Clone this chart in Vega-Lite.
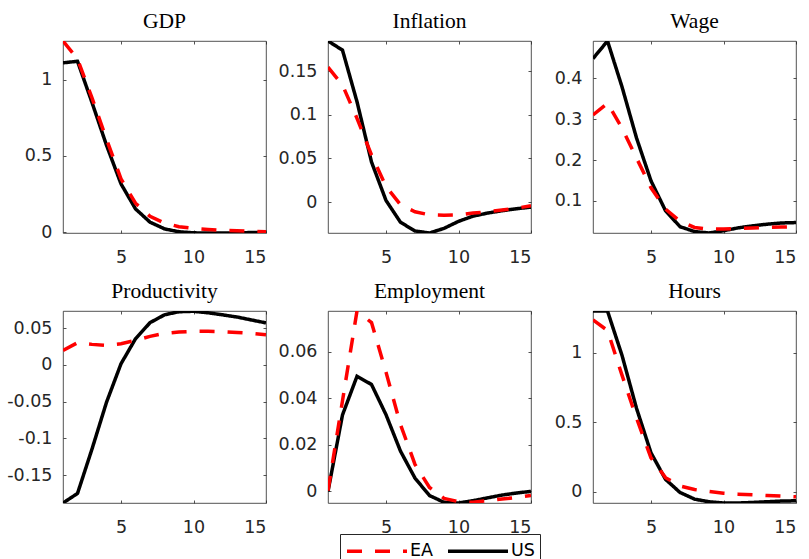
{
  "$schema": "https://vega.github.io/schema/vega-lite/v6.json",
  "autosize": {"type": "pad"},
  "padding": {"left": 6, "top": 10, "right": 2, "bottom": 5},
  "background": "#ffffff",
  "datasets": {
    "irf": [
      {"panel":"GDP","series":"US","h":1,"value":1.11},{"panel":"GDP","series":"US","h":2,"value":1.12},{"panel":"GDP","series":"US","h":3,"value":0.85},{"panel":"GDP","series":"US","h":4,"value":0.57},{"panel":"GDP","series":"US","h":5,"value":0.317},{"panel":"GDP","series":"US","h":6,"value":0.153},{"panel":"GDP","series":"US","h":7,"value":0.066},{"panel":"GDP","series":"US","h":8,"value":0.022},{"panel":"GDP","series":"US","h":9,"value":0.003},{"panel":"GDP","series":"US","h":10,"value":-0.004},{"panel":"GDP","series":"US","h":11,"value":-0.005},{"panel":"GDP","series":"US","h":12,"value":-0.005},{"panel":"GDP","series":"US","h":13,"value":-0.004},{"panel":"GDP","series":"US","h":14,"value":-0.002},{"panel":"GDP","series":"US","h":15,"value":0.0},
      {"panel":"GDP","series":"EA","h":1,"value":1.253},{"panel":"GDP","series":"EA","h":2,"value":1.135},{"panel":"GDP","series":"EA","h":3,"value":0.88},{"panel":"GDP","series":"EA","h":4,"value":0.61},{"panel":"GDP","series":"EA","h":5,"value":0.35},{"panel":"GDP","series":"EA","h":6,"value":0.19},{"panel":"GDP","series":"EA","h":7,"value":0.105},{"panel":"GDP","series":"EA","h":8,"value":0.06},{"panel":"GDP","series":"EA","h":9,"value":0.036},{"panel":"GDP","series":"EA","h":10,"value":0.025},{"panel":"GDP","series":"EA","h":11,"value":0.018},{"panel":"GDP","series":"EA","h":12,"value":0.013},{"panel":"GDP","series":"EA","h":13,"value":0.009},{"panel":"GDP","series":"EA","h":14,"value":0.006},{"panel":"GDP","series":"EA","h":15,"value":0.004},
      {"panel":"Inflation","series":"US","h":1,"value":0.1845},{"panel":"Inflation","series":"US","h":2,"value":0.174},{"panel":"Inflation","series":"US","h":3,"value":0.115},{"panel":"Inflation","series":"US","h":4,"value":0.046},{"panel":"Inflation","series":"US","h":5,"value":0.002},{"panel":"Inflation","series":"US","h":6,"value":-0.023},{"panel":"Inflation","series":"US","h":7,"value":-0.033},{"panel":"Inflation","series":"US","h":8,"value":-0.0353},{"panel":"Inflation","series":"US","h":9,"value":-0.03},{"panel":"Inflation","series":"US","h":10,"value":-0.022},{"panel":"Inflation","series":"US","h":11,"value":-0.016},{"panel":"Inflation","series":"US","h":12,"value":-0.0125},{"panel":"Inflation","series":"US","h":13,"value":-0.0098},{"panel":"Inflation","series":"US","h":14,"value":-0.0075},{"panel":"Inflation","series":"US","h":15,"value":-0.0057},
      {"panel":"Inflation","series":"EA","h":1,"value":0.1545},{"panel":"Inflation","series":"EA","h":2,"value":0.134},{"panel":"Inflation","series":"EA","h":3,"value":0.096},{"panel":"Inflation","series":"EA","h":4,"value":0.054},{"panel":"Inflation","series":"EA","h":5,"value":0.018},{"panel":"Inflation","series":"EA","h":6,"value":-0.003},{"panel":"Inflation","series":"EA","h":7,"value":-0.011},{"panel":"Inflation","series":"EA","h":8,"value":-0.0145},{"panel":"Inflation","series":"EA","h":9,"value":-0.015},{"panel":"Inflation","series":"EA","h":10,"value":-0.0145},{"panel":"Inflation","series":"EA","h":11,"value":-0.0125},{"panel":"Inflation","series":"EA","h":12,"value":-0.011},{"panel":"Inflation","series":"EA","h":13,"value":-0.009},{"panel":"Inflation","series":"EA","h":14,"value":-0.007},{"panel":"Inflation","series":"EA","h":15,"value":-0.004},
      {"panel":"Wage","series":"US","h":1,"value":0.448},{"panel":"Wage","series":"US","h":2,"value":0.491},{"panel":"Wage","series":"US","h":3,"value":0.379},{"panel":"Wage","series":"US","h":4,"value":0.254},{"panel":"Wage","series":"US","h":5,"value":0.149},{"panel":"Wage","series":"US","h":6,"value":0.076},{"panel":"Wage","series":"US","h":7,"value":0.037},{"panel":"Wage","series":"US","h":8,"value":0.025},{"panel":"Wage","series":"US","h":9,"value":0.0215},{"panel":"Wage","series":"US","h":10,"value":0.027},{"panel":"Wage","series":"US","h":11,"value":0.034},{"panel":"Wage","series":"US","h":12,"value":0.039},{"panel":"Wage","series":"US","h":13,"value":0.043},{"panel":"Wage","series":"US","h":14,"value":0.046},{"panel":"Wage","series":"US","h":15,"value":0.047},
      {"panel":"Wage","series":"EA","h":1,"value":0.31},{"panel":"Wage","series":"EA","h":2,"value":0.339},{"panel":"Wage","series":"EA","h":3,"value":0.278},{"panel":"Wage","series":"EA","h":4,"value":0.205},{"panel":"Wage","series":"EA","h":5,"value":0.132},{"panel":"Wage","series":"EA","h":6,"value":0.08},{"panel":"Wage","series":"EA","h":7,"value":0.05},{"panel":"Wage","series":"EA","h":8,"value":0.035},{"panel":"Wage","series":"EA","h":9,"value":0.031},{"panel":"Wage","series":"EA","h":10,"value":0.031},{"panel":"Wage","series":"EA","h":11,"value":0.033},{"panel":"Wage","series":"EA","h":12,"value":0.034},{"panel":"Wage","series":"EA","h":13,"value":0.035},{"panel":"Wage","series":"EA","h":14,"value":0.036},{"panel":"Wage","series":"EA","h":15,"value":0.037},
      {"panel":"Productivity","series":"US","h":1,"value":-0.188},{"panel":"Productivity","series":"US","h":2,"value":-0.175},{"panel":"Productivity","series":"US","h":3,"value":-0.1146},{"panel":"Productivity","series":"US","h":4,"value":-0.051},{"panel":"Productivity","series":"US","h":5,"value":0.0014},{"panel":"Productivity","series":"US","h":6,"value":0.0354},{"panel":"Productivity","series":"US","h":7,"value":0.0573},{"panel":"Productivity","series":"US","h":8,"value":0.068},{"panel":"Productivity","series":"US","h":9,"value":0.0722},{"panel":"Productivity","series":"US","h":10,"value":0.0728},{"panel":"Productivity","series":"US","h":11,"value":0.0708},{"panel":"Productivity","series":"US","h":12,"value":0.068},{"panel":"Productivity","series":"US","h":13,"value":0.065},{"panel":"Productivity","series":"US","h":14,"value":0.061},{"panel":"Productivity","series":"US","h":15,"value":0.057},
      {"panel":"Productivity","series":"EA","h":1,"value":0.0196},{"panel":"Productivity","series":"EA","h":2,"value":0.03},{"panel":"Productivity","series":"EA","h":3,"value":0.0278},{"panel":"Productivity","series":"EA","h":4,"value":0.0264},{"panel":"Productivity","series":"EA","h":5,"value":0.0287},{"panel":"Productivity","series":"EA","h":6,"value":0.0332},{"panel":"Productivity","series":"EA","h":7,"value":0.0387},{"panel":"Productivity","series":"EA","h":8,"value":0.0428},{"panel":"Productivity","series":"EA","h":9,"value":0.0446},{"panel":"Productivity","series":"EA","h":10,"value":0.0455},{"panel":"Productivity","series":"EA","h":11,"value":0.0455},{"panel":"Productivity","series":"EA","h":12,"value":0.045},{"panel":"Productivity","series":"EA","h":13,"value":0.044},{"panel":"Productivity","series":"EA","h":14,"value":0.0428},{"panel":"Productivity","series":"EA","h":15,"value":0.041},
      {"panel":"Employment","series":"US","h":1,"value":0.0},{"panel":"Employment","series":"US","h":2,"value":0.0329},{"panel":"Employment","series":"US","h":3,"value":0.0495},{"panel":"Employment","series":"US","h":4,"value":0.046},{"panel":"Employment","series":"US","h":5,"value":0.033},{"panel":"Employment","series":"US","h":6,"value":0.0173},{"panel":"Employment","series":"US","h":7,"value":0.0057},{"panel":"Employment","series":"US","h":8,"value":-0.0018},{"panel":"Employment","series":"US","h":9,"value":-0.0047},{"panel":"Employment","series":"US","h":10,"value":-0.005},{"panel":"Employment","series":"US","h":11,"value":-0.004},{"panel":"Employment","series":"US","h":12,"value":-0.0028},{"panel":"Employment","series":"US","h":13,"value":-0.0016},{"panel":"Employment","series":"US","h":14,"value":-0.0007},{"panel":"Employment","series":"US","h":15,"value":0.0},
      {"panel":"Employment","series":"EA","h":1,"value":0.0003},{"panel":"Employment","series":"EA","h":2,"value":0.039},{"panel":"Employment","series":"EA","h":3,"value":0.0776},{"panel":"Employment","series":"EA","h":4,"value":0.0726},{"panel":"Employment","series":"EA","h":5,"value":0.0513},{"panel":"Employment","series":"EA","h":6,"value":0.0287},{"panel":"Employment","series":"EA","h":7,"value":0.0116},{"panel":"Employment","series":"EA","h":8,"value":0.0017},{"panel":"Employment","series":"EA","h":9,"value":-0.003},{"panel":"Employment","series":"EA","h":10,"value":-0.0044},{"panel":"Employment","series":"EA","h":11,"value":-0.0047},{"panel":"Employment","series":"EA","h":12,"value":-0.004},{"panel":"Employment","series":"EA","h":13,"value":-0.0033},{"panel":"Employment","series":"EA","h":14,"value":-0.0026},{"panel":"Employment","series":"EA","h":15,"value":-0.0018},
      {"panel":"Hours","series":"US","h":1,"value":1.303},{"panel":"Hours","series":"US","h":2,"value":1.303},{"panel":"Hours","series":"US","h":3,"value":0.983},{"panel":"Hours","series":"US","h":4,"value":0.601},{"panel":"Hours","series":"US","h":5,"value":0.279},{"panel":"Hours","series":"US","h":6,"value":0.088},{"panel":"Hours","series":"US","h":7,"value":-0.007},{"panel":"Hours","series":"US","h":8,"value":-0.055},{"panel":"Hours","series":"US","h":9,"value":-0.074},{"panel":"Hours","series":"US","h":10,"value":-0.083},{"panel":"Hours","series":"US","h":11,"value":-0.083},{"panel":"Hours","series":"US","h":12,"value":-0.079},{"panel":"Hours","series":"US","h":13,"value":-0.074},{"panel":"Hours","series":"US","h":14,"value":-0.069},{"panel":"Hours","series":"US","h":15,"value":-0.067},
      {"panel":"Hours","series":"EA","h":1,"value":1.239},{"panel":"Hours","series":"EA","h":2,"value":1.162},{"panel":"Hours","series":"EA","h":3,"value":0.84},{"panel":"Hours","series":"EA","h":4,"value":0.53},{"panel":"Hours","series":"EA","h":5,"value":0.243},{"panel":"Hours","series":"EA","h":6,"value":0.1},{"panel":"Hours","series":"EA","h":7,"value":0.04},{"panel":"Hours","series":"EA","h":8,"value":0.014},{"panel":"Hours","series":"EA","h":9,"value":0.0},{"panel":"Hours","series":"EA","h":10,"value":-0.012},{"panel":"Hours","series":"EA","h":11,"value":-0.019},{"panel":"Hours","series":"EA","h":12,"value":-0.024},{"panel":"Hours","series":"EA","h":13,"value":-0.029},{"panel":"Hours","series":"EA","h":14,"value":-0.033},{"panel":"Hours","series":"EA","h":15,"value":-0.038}
    ]
  },
  "data": {"name": "irf"},
  "columns": 3,
  "bounds": "flush",
  "spacing": {"row": 78, "column": 62},
  "concat": [
    {
      "title": "GDP", "width": 203, "height": 192,
      "transform": [{"filter": "datum.panel === 'GDP'"}],
      "layer": [
        {"mark": {"type": "line", "strokeWidth": 3.5, "clip": true},
         "encoding": {
           "x": {"field": "h", "type": "quantitative", "scale": {"domain": [1, 15], "nice": false, "zero": false}, "axis": {"values": [5, 10, 15], "orient": "bottom"}},
           "y": {"field": "value", "type": "quantitative", "scale": {"domain": [-0.005, 1.253], "nice": false, "zero": false}, "axis": {"values": [0, 0.5, 1], "orient": "left"}},
           "color": {"field": "series", "type": "nominal", "scale": {"domain": ["EA", "US"], "range": ["#ff0000", "#000000"]}, "legend": {"title": null}},
           "strokeDash": {"field": "series", "type": "nominal", "scale": {"domain": ["EA", "US"], "range": [[15, 13], [1, 0]]}, "legend": {"title": null}}
         }},
        {"mark": {"type": "line", "opacity": 0},
         "encoding": {
           "x": {"field": "h", "type": "quantitative", "axis": {"values": [5, 10, 15], "orient": "top", "labels": false}},
           "y": {"field": "value", "type": "quantitative", "axis": {"values": [0, 0.5, 1], "orient": "right", "labels": false}}
         }}
      ],
      "resolve": {"axis": {"x": "independent", "y": "independent"}}
    },
    {
      "title": "Inflation", "width": 203, "height": 192,
      "transform": [{"filter": "datum.panel === 'Inflation'"}],
      "layer": [
        {"mark": {"type": "line", "strokeWidth": 3.5, "clip": true},
         "encoding": {
           "x": {"field": "h", "type": "quantitative", "scale": {"domain": [1, 15], "nice": false, "zero": false}, "axis": {"values": [5, 10, 15], "orient": "bottom"}},
           "y": {"field": "value", "type": "quantitative", "scale": {"domain": [-0.0353, 0.1845], "nice": false, "zero": false}, "axis": {"values": [0, 0.05, 0.1, 0.15], "orient": "left"}},
           "color": {"field": "series", "type": "nominal", "scale": {"domain": ["EA", "US"], "range": ["#ff0000", "#000000"]}, "legend": {"title": null}},
           "strokeDash": {"field": "series", "type": "nominal", "scale": {"domain": ["EA", "US"], "range": [[15, 13], [1, 0]]}, "legend": {"title": null}}
         }},
        {"mark": {"type": "line", "opacity": 0},
         "encoding": {
           "x": {"field": "h", "type": "quantitative", "axis": {"values": [5, 10, 15], "orient": "top", "labels": false}},
           "y": {"field": "value", "type": "quantitative", "axis": {"values": [0, 0.05, 0.1, 0.15], "orient": "right", "labels": false}}
         }}
      ],
      "resolve": {"axis": {"x": "independent", "y": "independent"}}
    },
    {
      "title": "Wage", "width": 203, "height": 192,
      "transform": [{"filter": "datum.panel === 'Wage'"}],
      "layer": [
        {"mark": {"type": "line", "strokeWidth": 3.5, "clip": true},
         "encoding": {
           "x": {"field": "h", "type": "quantitative", "scale": {"domain": [1, 15], "nice": false, "zero": false}, "axis": {"values": [5, 10, 15], "orient": "bottom"}},
           "y": {"field": "value", "type": "quantitative", "scale": {"domain": [0.0215, 0.491], "nice": false, "zero": false}, "axis": {"values": [0.1, 0.2, 0.3, 0.4], "orient": "left"}},
           "color": {"field": "series", "type": "nominal", "scale": {"domain": ["EA", "US"], "range": ["#ff0000", "#000000"]}, "legend": {"title": null}},
           "strokeDash": {"field": "series", "type": "nominal", "scale": {"domain": ["EA", "US"], "range": [[15, 13], [1, 0]]}, "legend": {"title": null}}
         }},
        {"mark": {"type": "line", "opacity": 0},
         "encoding": {
           "x": {"field": "h", "type": "quantitative", "axis": {"values": [5, 10, 15], "orient": "top", "labels": false}},
           "y": {"field": "value", "type": "quantitative", "axis": {"values": [0.1, 0.2, 0.3, 0.4], "orient": "right", "labels": false}}
         }}
      ],
      "resolve": {"axis": {"x": "independent", "y": "independent"}}
    },
    {
      "title": "Productivity", "width": 203, "height": 192,
      "transform": [{"filter": "datum.panel === 'Productivity'"}],
      "layer": [
        {"mark": {"type": "line", "strokeWidth": 3.5, "clip": true},
         "encoding": {
           "x": {"field": "h", "type": "quantitative", "scale": {"domain": [1, 15], "nice": false, "zero": false}, "axis": {"values": [5, 10, 15], "orient": "bottom"}},
           "y": {"field": "value", "type": "quantitative", "scale": {"domain": [-0.188, 0.0732], "nice": false, "zero": false}, "axis": {"values": [-0.15, -0.1, -0.05, 0, 0.05], "orient": "left"}},
           "color": {"field": "series", "type": "nominal", "scale": {"domain": ["EA", "US"], "range": ["#ff0000", "#000000"]}, "legend": {"title": null}},
           "strokeDash": {"field": "series", "type": "nominal", "scale": {"domain": ["EA", "US"], "range": [[15, 13], [1, 0]]}, "legend": {"title": null}}
         }},
        {"mark": {"type": "line", "opacity": 0},
         "encoding": {
           "x": {"field": "h", "type": "quantitative", "axis": {"values": [5, 10, 15], "orient": "top", "labels": false}},
           "y": {"field": "value", "type": "quantitative", "axis": {"values": [-0.15, -0.1, -0.05, 0, 0.05], "orient": "right", "labels": false}}
         }}
      ],
      "resolve": {"axis": {"x": "independent", "y": "independent"}}
    },
    {
      "title": "Employment", "width": 203, "height": 192,
      "transform": [{"filter": "datum.panel === 'Employment'"}],
      "layer": [
        {"mark": {"type": "line", "strokeWidth": 3.5, "clip": true},
         "encoding": {
           "x": {"field": "h", "type": "quantitative", "scale": {"domain": [1, 15], "nice": false, "zero": false}, "axis": {"values": [5, 10, 15], "orient": "bottom"}},
           "y": {"field": "value", "type": "quantitative", "scale": {"domain": [-0.005, 0.0776], "nice": false, "zero": false}, "axis": {"values": [0, 0.02, 0.04, 0.06], "orient": "left"}},
           "color": {"field": "series", "type": "nominal", "scale": {"domain": ["EA", "US"], "range": ["#ff0000", "#000000"]}, "legend": {"title": null}},
           "strokeDash": {"field": "series", "type": "nominal", "scale": {"domain": ["EA", "US"], "range": [[15, 13], [1, 0]]}, "legend": {"title": null}}
         }},
        {"mark": {"type": "line", "opacity": 0},
         "encoding": {
           "x": {"field": "h", "type": "quantitative", "axis": {"values": [5, 10, 15], "orient": "top", "labels": false}},
           "y": {"field": "value", "type": "quantitative", "axis": {"values": [0, 0.02, 0.04, 0.06], "orient": "right", "labels": false}}
         }}
      ],
      "resolve": {"axis": {"x": "independent", "y": "independent"}}
    },
    {
      "title": "Hours", "width": 203, "height": 192,
      "transform": [{"filter": "datum.panel === 'Hours'"}],
      "layer": [
        {"mark": {"type": "line", "strokeWidth": 3.5, "clip": true},
         "encoding": {
           "x": {"field": "h", "type": "quantitative", "scale": {"domain": [1, 15], "nice": false, "zero": false}, "axis": {"values": [5, 10, 15], "orient": "bottom"}},
           "y": {"field": "value", "type": "quantitative", "scale": {"domain": [-0.083, 1.303], "nice": false, "zero": false}, "axis": {"values": [0, 0.5, 1], "orient": "left"}},
           "color": {"field": "series", "type": "nominal", "scale": {"domain": ["EA", "US"], "range": ["#ff0000", "#000000"]}, "legend": {"title": null}},
           "strokeDash": {"field": "series", "type": "nominal", "scale": {"domain": ["EA", "US"], "range": [[15, 13], [1, 0]]}, "legend": {"title": null}}
         }},
        {"mark": {"type": "line", "opacity": 0},
         "encoding": {
           "x": {"field": "h", "type": "quantitative", "axis": {"values": [5, 10, 15], "orient": "top", "labels": false}},
           "y": {"field": "value", "type": "quantitative", "axis": {"values": [0, 0.5, 1], "orient": "right", "labels": false}}
         }}
      ],
      "resolve": {"axis": {"x": "independent", "y": "independent"}}
    }
  ],
  "config": {
    "view": {"stroke": "#262626", "strokeWidth": 0.8},
    "axis": {
      "title": null, "grid": false, "domain": false,
      "labelFont": "DejaVu Sans", "labelFontSize": 17.5, "labelColor": "#262626",
      "tickColor": "#262626", "tickSize": -3, "tickWidth": 0.8,
      "labelExpr": "'' + datum.value"
    },
    "axisX": {"labelPadding": 18},
    "axisY": {"labelPadding": 14},
    "title": {"font": "Liberation Serif", "fontSize": 21.5, "fontWeight": "normal", "color": "#000000", "offset": 8, "anchor": "middle"},
    "legend": {
      "orient": "none", "legendX": 277, "legendY": 493, "direction": "horizontal",
      "symbolType": "M-3,0H3", "symbolSize": 400, "symbolStrokeWidth": 3.5, "symbolOffset": 20,
      "labelFont": "DejaVu Sans", "labelFontSize": 17.5, "labelColor": "#000000",
      "strokeColor": "#262626", "fillColor": "#ffffff", "padding": 5, "columnPadding": 7, "labelOffset": 21
    }
  }
}
